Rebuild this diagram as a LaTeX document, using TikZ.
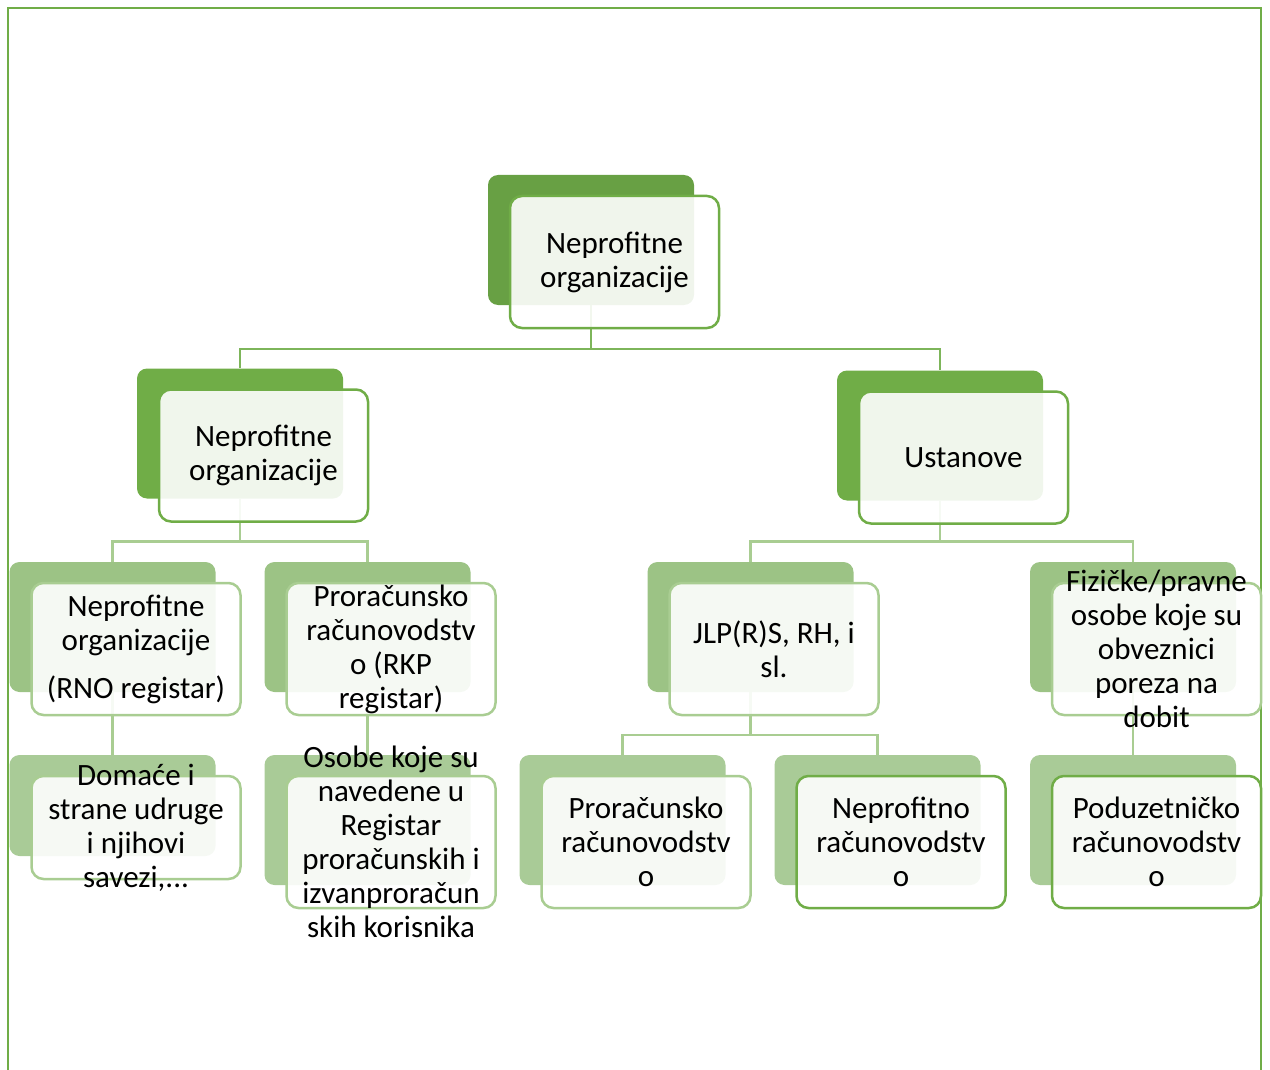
\documentclass[tikz,border=0pt]{standalone}
\usepackage{fontspec}
\setmainfont{Carlito}
\usepackage{xcolor}
\definecolor{nodark}{HTML}{68A044}
\definecolor{nomid}{HTML}{70AD47}
\definecolor{nolight}{HTML}{9CC385}
\definecolor{nopale}{HTML}{A9CB97}
\definecolor{noline}{HTML}{A9CD92}
\definecolor{notop}{HTML}{7DB55A}
\begin{document}
\begin{tikzpicture}[x=1pt, y=-1pt]
	\tikzstyle{back} = [rectangle, rounded corners=10pt, inner sep=0pt,
	minimum width=206pt, minimum height=130pt]
	\tikzstyle{front} = [rectangle, draw=nomid, line width=2.5pt, fill=white,
	fill opacity=0.9, rounded corners=12pt, inner sep=0pt,
	minimum width=209pt, minimum height=132pt]
	\tikzstyle{txt} = [align=center, text=black, inner sep=0pt,
	font=\fontsize{31}{34}\selectfont]
	\tikzstyle{link} = [draw, line width=2.5pt, noline]
	\useasboundingbox (0,0) rectangle (1270,1070);
	% Frame
	\draw [nomid, line width=2pt] (8,1072) -- (8,8) -- (1261,8) -- (1261,1072);
	% Place back boxes
	\node [back, fill=nodark] (org) at (591,240) {};
	\node [back, fill=nomid] (norg) at (240,433.5) {};
	\node [back, fill=nomid] (ust) at (940,435.5) {};
	\node [back, fill=nolight] (rno) at (112.5,627) {};
	\node [back, fill=nolight] (rkp) at (367.5,627) {};
	\node [back, fill=nolight] (jlp) at (750.5,627) {};
	\node [back, fill=nolight] (fiz) at (1133,627) {};
	\node [back, fill=nopale, minimum height=101pt] (udr) at (112.5,805.5) {};
	\node [back, fill=nopale] (oso) at (367.5,820) {};
	\node [back, fill=nopale] (prr) at (622.5,820) {};
	\node [back, fill=nopale] (npr) at (877.5,820) {};
	\node [back, fill=nopale] (pod) at (1133,820) {};
	% Draw edges
	\path [link, notop] (org.south) -- ++(0,44) -| (norg.north);
	\path [link, notop] (org.south) -- ++(0,44) -| (ust.north);
	\path [link] (norg.south) -- ++(0,43) -| (rno.north);
	\path [link] (norg.south) -- ++(0,43) -| (rkp.north);
	\path [link] (ust.south) -- ++(0,41) -| (jlp.north);
	\path [link] (ust.south) -- ++(0,41) -| (fiz.north);
	\path [link] (rno.south) -- (udr.north);
	\path [link] (rkp.south) -- (oso.north);
	\path [link] (jlp.south) -- ++(0,43) -| (prr.north);
	\path [link] (jlp.south) -- ++(0,43) -| (npr.north);
	\path [link] (fiz.south) -- (pod.north);
	% Place front boxes
	\node [front] (orgF) at ([shift={(23.5,22)}]org) {};
	\node [front] (norgF) at ([shift={(23.5,22)}]norg) {};
	\node [front] (ustF) at ([shift={(23.5,22)}]ust) {};
	\node [front, draw=noline] (rnoF) at ([shift={(23.5,22)}]rno) {};
	\node [front, draw=noline] (rkpF) at ([shift={(23.5,22)}]rkp) {};
	\node [front, draw=noline] (jlpF) at ([shift={(23.5,22)}]jlp) {};
	\node [front, draw=noline] (fizF) at ([shift={(23.5,22)}]fiz) {};
	\node [front, draw=noline, minimum height=103pt] (udrF) at ([shift={(23.5,22)}]udr) {};
	\node [front, draw=noline] (osoF) at ([shift={(23.5,22)}]oso) {};
	\node [front, draw=noline] (prrF) at ([shift={(23.5,22)}]prr) {};
	\node [front] (nprF) at ([shift={(23.5,22)}]npr) {};
	\node [front] (podF) at ([shift={(23.5,22)}]pod) {};
	% Texts
	\node [txt] (orgT) at (orgF) {Neprofitne\\organizacije};
	\node [txt] (norgT) at (norgF) {Neprofitne\\organizacije};
	\node [txt] (ustT) at (ustF) {Ustanove};
	\node [txt] (rnoT) at (rnoF) {Neprofitne\\organizacije\\[14pt](RNO registar)};
	\node [txt] (rkpT) at (rkpF) {Proračunsko\\računovodstv\\o (RKP\\registar)};
	\node [txt] (jlpT) at (jlpF) {JLP(R)S, RH, i\\sl.};
	\node [txt] (fizT) at (fizF) {Fizičke/pravne\\osobe koje su\\obveznici\\poreza na\\dobit};
	\node [txt] (udrT) at (udrF) {Domaće i\\strane udruge\\i njihovi\\savezi,...};
	\node [txt] (osoT) at (osoF) {Osobe koje su\\navedene u\\Registar\\proračunskih i\\izvanproračun\\skih korisnika};
	\node [txt] (prrT) at (prrF) {Proračunsko\\računovodstv\\o};
	\node [txt] (nprT) at (nprF) {Neprofitno\\računovodstv\\o};
	\node [txt] (podT) at (podF) {Poduzetničko\\računovodstv\\o};
\end{tikzpicture}
\end{document}
